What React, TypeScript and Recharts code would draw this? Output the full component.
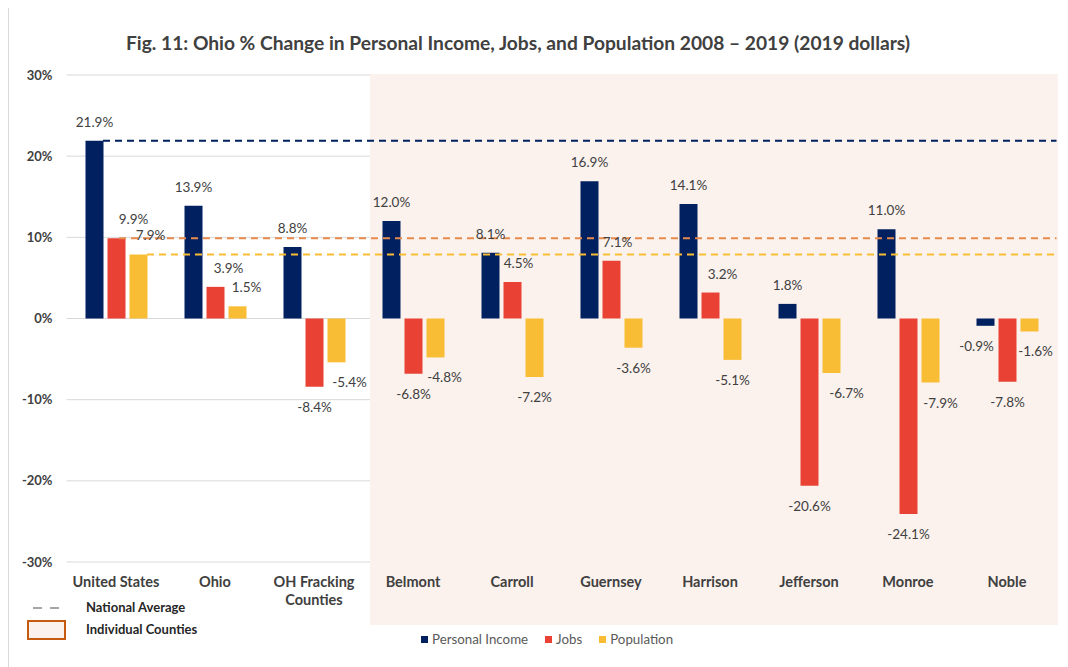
import React from "react";
import {
  ComposedChart, Bar, XAxis, YAxis, CartesianGrid, ReferenceLine, ReferenceArea, LabelList, Text,
} from "recharts";

const categories = [
  "United States", "Ohio", "OH Fracking Counties", "Belmont", "Carroll",
  "Guernsey", "Harrison", "Jefferson", "Monroe", "Noble",
];
const personalIncome = [21.9, 13.9, 8.8, 12.0, 8.1, 16.9, 14.1, 1.8, 11.0, -0.9];
const jobs = [9.9, 3.9, -8.4, -6.8, 4.5, 7.1, 3.2, -20.6, -24.1, -7.8];
const population = [7.9, 1.5, -5.4, -4.8, -7.2, -3.6, -5.1, -6.7, -7.9, -1.6];
const yTicks = [-30, -20, -10, 0, 10, 20, 30];

const NAVY = "#002060";
const RED = "#E94235";
const YELLOW = "#F8BD35";
const ORANGE_LINE = "#E68A4E";
const SHADE = "#FBF2ED";
const FONT = "Lato, 'Open Sans', sans-serif";

// small sideways nudges so labels sit like the Excel original
const nudgeIncome = [0, 0, 0, 0, 0, 0, 0, 0, 0, -9];
const nudgeJobs = [17, 13, 0, 0, 6, 6, 12, 0, 0, 0];
const nudgePop = [12, 9, 13, 9, 0, 0, 0, 15, 10, 6];

const data = categories.map((name, i) => ({
  name,
  income: personalIncome[i],
  jobs: jobs[i],
  population: population[i],
}));

const makeLabel = (nudge: number[]) => (props: any) => {
  const vb = props.viewBox ?? props;
  const x = Number(vb.x ?? props.x);
  const y = Number(vb.y ?? props.y);
  const w = Number(vb.width ?? props.width);
  const h = Number(vb.height ?? props.height);
  const v = Number(props.value);
  const top = Math.min(y, y + h);
  const bottom = Math.max(y, y + h);
  const cx = x + w / 2 + (nudge[props.index] ?? 0);
  const cy = v >= 0 ? top - 19 : bottom + 20;
  return (
    <text x={cx} y={cy} textAnchor="middle" dominantBaseline="central"
      fontFamily={FONT} fontSize={13.5} fill="#404040">
      {v.toFixed(1)}%
    </text>
  );
};

const CategoryTick = (props: any) => {
  const { x, y, payload } = props;
  return (
    <Text x={x} y={y + 7} width={96} textAnchor="middle" verticalAnchor="start"
      fontFamily={FONT} fontSize={14.5} fontWeight={700} fill="#404040" lineHeight={18}>
      {payload.value}
    </Text>
  );
};

const dashedFrom = (start: number, color: string) => (props: any) => {
  const { x1, x2, y1 } = props;
  return <line x1={x1 + start} x2={x2} y1={y1} y2={y1} stroke={color} strokeWidth={2} strokeDasharray="7 5" />;
};

const Shade = (props: any) => {
  const { x, y, width, height } = props;
  return <rect x={x + 6.5} y={y - 1} width={width - 5} height={height + 64} fill={SHADE} />;
};

export default function App() {
  return (
    <div style={{ position: "relative", width: 1060, height: 659, fontFamily: FONT }}>
      <div style={{ position: "absolute", left: 0, top: -1, width: 1060, height: 660, borderTop: "1px solid #d9d9d9", borderLeft: "1px solid #d9d9d9" }} />
      <div style={{ position: "absolute", left: 0, top: 23, width: 1020, textAlign: "center", fontSize: 19.2, fontWeight: 700, color: "#404040" }}>
        Fig. 11: Ohio % Change in Personal Income, Jobs, and Population 2008 – 2019 (2019 dollars)
      </div>
      <ComposedChart width={1060} height={659} data={data} barSize={18} barGap={4}
        margin={{ top: 67, right: 11.5, left: 0, bottom: 45 }} style={{ position: "absolute", left: 0, top: 0 }}>
        <ReferenceArea x1="Belmont" x2="Noble" ifOverflow="visible" shape={<Shade />} />
        <CartesianGrid vertical={false} stroke="#d9d9d9" />
        <XAxis dataKey="name" axisLine={false} tickLine={false} height={60} interval={0} tick={<CategoryTick />} />
        <YAxis type="number" domain={[-30, 30]} ticks={yTicks} width={58.5} axisLine={false} tickLine={false}
          tickMargin={8} tickFormatter={(v) => `${v}%`}
          tick={{ fontFamily: FONT, fontSize: 13, fontWeight: 700, fill: "#404040" }} />
        <Bar dataKey="income" fill={NAVY} isAnimationActive={false}>
          <LabelList dataKey="income" content={makeLabel(nudgeIncome)} />
        </Bar>
        <Bar dataKey="jobs" fill={RED} isAnimationActive={false}>
          <LabelList dataKey="jobs" content={makeLabel(nudgeJobs)} />
        </Bar>
        <Bar dataKey="population" fill={YELLOW} isAnimationActive={false}>
          <LabelList dataKey="population" content={makeLabel(nudgePop)} />
        </Bar>
        <ReferenceLine y={personalIncome[0]} shape={dashedFrom(36.5, NAVY)} />
        <ReferenceLine y={jobs[0]} shape={dashedFrom(52.5, ORANGE_LINE)} />
        <ReferenceLine y={population[0]} shape={dashedFrom(80.5, YELLOW)} />
      </ComposedChart>

      <div style={{ position: "absolute", left: 413, top: 623, display: "flex", alignItems: "center", fontSize: 13.3, color: "#595959" }}>
        {[["Personal Income", NAVY], ["Jobs", RED], ["Population", YELLOW]].map(([label, c]) => (
          <div key={label} style={{ display: "flex", alignItems: "center", marginRight: 17 }}>
            <span style={{ width: 7, height: 7, background: c, marginRight: 4, display: "inline-block" }} />
            {label}
          </div>
        ))}
      </div>

      <svg style={{ position: "absolute", left: 0, top: 0 }} width={80} height={659}>
        <line x1={25} x2={51} y1={600} y2={600} stroke="#A6A6A6" strokeWidth={2} strokeDasharray="9 8" />
        <rect x={20} y={613} width={37} height={18} fill={SHADE} stroke="#C55A11" strokeWidth={2} />
      </svg>
      <div style={{ position: "absolute", left: 78, top: 591, fontSize: 13, fontWeight: 700, color: "#262626" }}>National Average</div>
      <div style={{ position: "absolute", left: 78, top: 613, fontSize: 13, fontWeight: 700, color: "#262626" }}>Individual Counties</div>
    </div>
  );
}
